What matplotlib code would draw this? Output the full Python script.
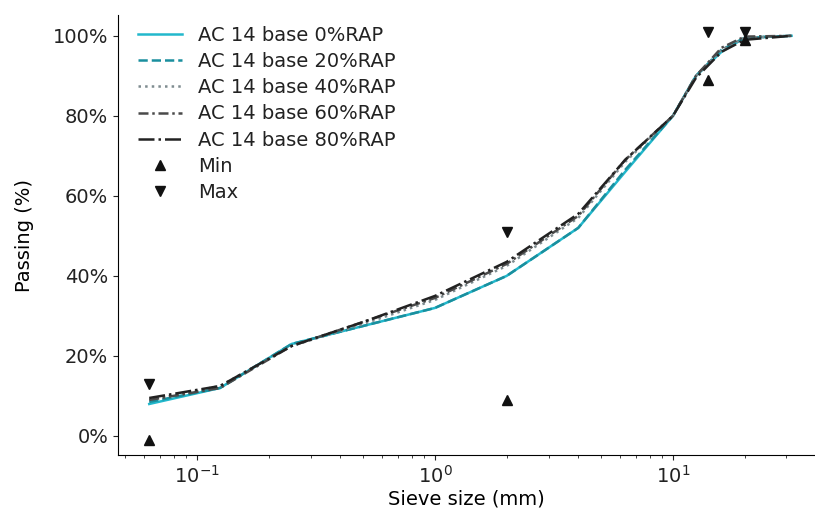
import numpy as np
import matplotlib
matplotlib.use("Agg")
import matplotlib.pyplot as plt
from matplotlib.ticker import PercentFormatter

""" Data """

sieves = [0.063, 0.125, 0.25, 0.5, 1, 2, 4, 6.3, 10, 12.5, 16, 20, 31.5]

rap0 = [8, 12, 23, 27.5, 32, 40, 52, 66, 80, 90, 96, 99.5, 100]
rap20 = [8.5, 12, 23, 27.5, 32, 40, 52, 66.5, 80, 90, 96.5, 99.5, 100]
rap40 = [9, 12.5, 22.5, 28, 34, 42.5, 54.5, 68.5, 80, 90, 96.5, 99.5, 100]
rap60 = [9, 12, 22.5, 28.5, 34.5, 43, 55, 69, 80, 90, 97, 99.8, 100]
rap80 = [9.5, 12.5, 22.5, 28.5, 35, 43.5, 55.5, 69, 80, 89.5, 96, 99, 100]

lim_sieves = [0.063, 2, 14, 20]
lim_min = [-1, 9, 89, 99]
lim_max = [13, 51, 101, 101]

labels = ['AC 14 base 0%RAP', 'AC 14 base 20%RAP', 'AC 14 base 40%RAP',
          'AC 14 base 60%RAP', 'AC 14 base 80%RAP']

""" Plot """

plt.rcParams['font.size'] = 14
plt.rcParams['text.color'] = '#222222'
plt.rcParams['xtick.color'] = '#222222'
plt.rcParams['ytick.color'] = '#222222'

fig = plt.figure(figsize=(8.15, 5.09), dpi=100)
ax = fig.add_axes([118/815, 54/509, 697/815, 440/509])

lw = 1.8
ax.plot(sieves, rap0, c='#22b8cc', ls='-', lw=lw, label=labels[0])
ax.plot(sieves, rap20, c='#1a8f9e', ls='--', lw=lw, label=labels[1])
ax.plot(sieves, rap40, c='#7f8c90', ls=':', lw=lw, label=labels[2])
ax.plot(sieves, rap60, c='#4a4a4a', ls=(0, (4, 1.5, 1, 1.5)), lw=lw, label=labels[3])
ax.plot(sieves, rap80, c='#222222', ls='-.', lw=lw, label=labels[4])

ax.plot(lim_sieves, lim_min, ls='none', marker='^', c='#111111', ms=7, label='Min')
ax.plot(lim_sieves, lim_max, ls='none', marker='v', c='#111111', ms=7, label='Max')

ax.set_xscale('log')
ax.set_xlim(10**-1.332, 10**1.597)
ax.set_ylim(-4.75, 105.2)
ax.yaxis.set_major_formatter(PercentFormatter(decimals=0))
ax.set_yticks([0, 20, 40, 60, 80, 100])

ax.spines['top'].set_visible(False)
ax.spines['right'].set_visible(False)

ax.set_xlabel('Sieve size (mm)', labelpad=2)
ax.set_ylabel('Passing (%)')
ax.yaxis.set_label_coords(-0.12, 0.5)

ax.legend(loc='upper left', frameon=False, handlelength=2.3, labelspacing=0.37,
          borderaxespad=0.5, bbox_to_anchor=(0.003, 1.015))

fig.savefig('out.png', dpi=100)
